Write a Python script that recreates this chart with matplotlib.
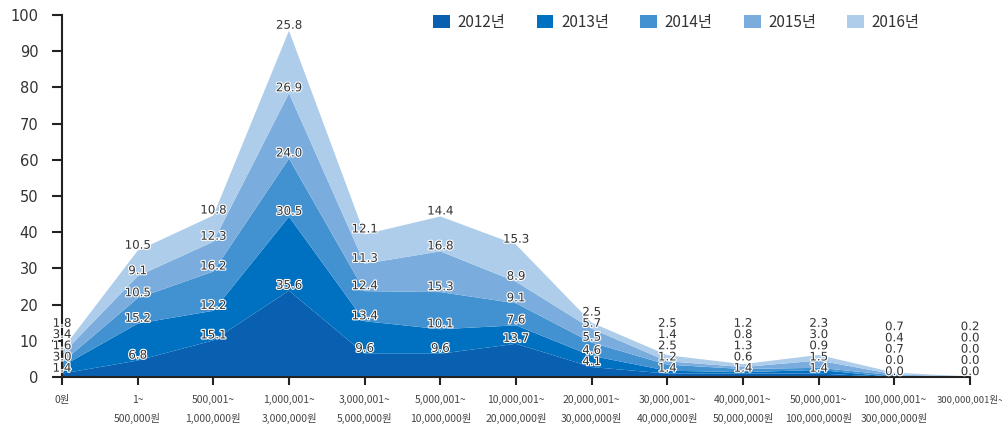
import matplotlib
matplotlib.use("Agg")
import matplotlib.pyplot as plt
import matplotlib.patheffects as pe
import numpy as np

# --- data (percent per income bracket, per year) ---
brackets = ["0원", "1~\n500,000원", "500,001~\n1,000,000원", "1,000,001~\n3,000,000원",
            "3,000,001~\n5,000,000원", "5,000,001~\n10,000,000원", "10,000,001~\n20,000,000원",
            "20,000,001~\n30,000,000원", "30,000,001~\n40,000,000원", "40,000,001~\n50,000,000원",
            "50,000,001~\n100,000,000원", "100,000,001~\n300,000,000원", "300,000,001원~"]
years = ["2012년", "2013년", "2014년", "2015년", "2016년"]
y2012 = [1.4, 6.8, 15.1, 35.6, 9.6, 9.6, 13.7, 4.1, 1.4, 1.4, 1.4, 0.0, 0.0]
y2013 = [3.0, 15.2, 12.2, 30.5, 13.4, 10.1, 7.6, 4.6, 1.2, 0.6, 1.5, 0.0, 0.0]
y2014 = [1.6, 10.5, 16.2, 24.0, 12.4, 15.3, 9.1, 5.5, 2.5, 1.3, 0.9, 0.7, 0.0]
y2015 = [3.4, 9.1, 12.3, 26.9, 11.3, 16.8, 8.9, 5.7, 1.4, 0.8, 3.0, 0.4, 0.0]
y2016 = [1.8, 10.5, 10.8, 25.8, 12.1, 14.4, 15.3, 2.5, 2.5, 1.2, 2.3, 0.7, 0.2]
series = [y2012, y2013, y2014, y2015, y2016]
colors = ["#0a60b0", "#0070c0", "#4292d2", "#7aaddd", "#aecdea"]

# the original graphic draws the stack on a compressed vertical scale
SCALE = 0.67
LABEL_LIFT = 1.5   # label centre above layer top (axis units)
LABEL_GAP = 3.1    # minimum spacing between stacked labels

W, H = 1002, 428
fig = plt.figure(figsize=(W / 100, H / 100), dpi=100)
ax = fig.add_axes([62 / W, (H - 377) / H, (970 - 62) / W, (377 - 15) / H])

x = np.arange(len(brackets))
scaled = [np.array(s) * SCALE for s in series]
ax.stackplot(x, *scaled, colors=colors, linewidth=0, labels=years)

# value labels, pushed up so they never overlap
cum = np.cumsum(np.array(scaled), axis=0)
outline = [pe.withStroke(linewidth=1.6, foreground="white")]
for j in range(len(brackets)):
    prev = -np.inf
    for i in range(len(series)):
        yl = max(cum[i, j] + LABEL_LIFT, prev + LABEL_GAP)
        prev = yl
        ax.text(x[j], yl, f"{series[i][j]:.1f}", ha="center", va="center",
                fontsize=8.5, color="#333333", family="DejaVu Sans",
                path_effects=outline, zorder=5)

ax.set_xlim(0, len(brackets) - 1)
ax.set_ylim(0, 100)
ax.set_yticks(range(0, 101, 10))
ax.set_xticks(x)
ax.set_xticklabels(brackets, family=["Noto Sans CJK KR", "DejaVu Sans"],
                   fontsize=7.5, color="#444444", linespacing=1.9)
ax.get_xticklabels()[-1].set_fontsize(6.8)
ax.tick_params(axis="y", length=7, width=1.5, pad=10, labelsize=10.5,
               labelcolor="#333333", color="#222222")
ax.tick_params(axis="x", length=6, width=1.5, pad=7, color="#222222")

for side in ["top", "right"]:
    ax.spines[side].set_visible(False)
for side in ["left", "bottom"]:
    ax.spines[side].set_linewidth(1.5)
    ax.spines[side].set_color("#222222")
ax.set_facecolor("none")

fig.legend(loc="upper left", bbox_to_anchor=(433 / W, 1 - 14 / H), ncol=5,
           frameon=False, borderpad=0, borderaxespad=0,
           handlelength=1.1, handleheight=0.9, handletextpad=0.5,
           columnspacing=2.05, prop={"family": ["Noto Sans CJK KR"], "size": 11},
           labelcolor="#333333")

fig.savefig("out.png", dpi=100)
